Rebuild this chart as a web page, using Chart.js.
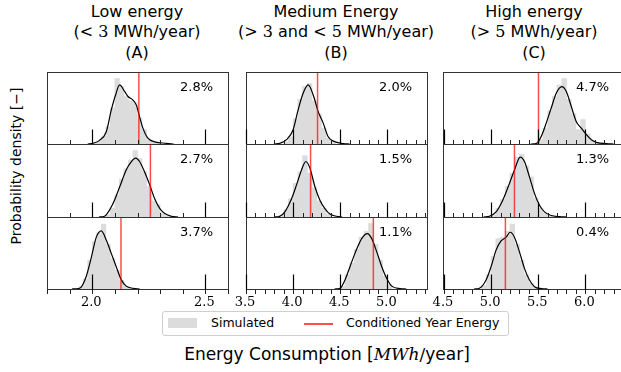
<!DOCTYPE html>
<html>
<head>
<meta charset="utf-8">
<script src="https://cdn.jsdelivr.net/npm/chart.js@4.4.1/dist/chart.umd.min.js"></script>
<style>
body { margin:0; width:621px; height:372px; overflow:hidden; background:#fff; position:relative; font-family:"DejaVu Sans", sans-serif; color:#000; }
canvas { position:absolute; }
.t { position:absolute; white-space:nowrap; transform:translateX(-50%); font-size:16px; line-height:20px; }
.m { font-family:"DejaVu Serif", serif; }
.mi { font-family:"DejaVu Serif", serif; font-style:italic; }
#ylab { position:absolute; left:16px; top:166px; white-space:nowrap; font-size:14px; transform:translate(-50%,-50%) rotate(-90deg); }
#legend { position:absolute; left:162px; top:311px; width:345px; height:23px; border:1px solid #cfcfcf; border-radius:3px; font-size:12.5px; }
#legend span { position:absolute; top:3px; line-height:16px; }
</style>
</head>
<body>
<div class="t" style="left:137px;top:2px">Low energy</div>
<div class="t" style="left:137px;top:22px">(<span class="m">&lt; 3</span> MWh/year)</div>
<div class="t" style="left:137px;top:43px">(A)</div>
<div class="t" style="left:336px;top:2px">Medium Energy</div>
<div class="t" style="left:336px;top:22px">(<span class="m">&gt; 3</span> and <span class="m">&lt; 5</span> MWh/year)</div>
<div class="t" style="left:336px;top:43px">(B)</div>
<div class="t" style="left:534px;top:2px">High energy</div>
<div class="t" style="left:534px;top:22px">(<span class="m">&gt; 5</span> MWh/year)</div>
<div class="t" style="left:534px;top:43px">(C)</div>
<div id="ylab">Probability density [&minus;]</div>
<div id="legend">
  <div style="position:absolute;left:5px;top:6px;width:29px;height:10px;background:#dcdcdc"></div>
  <span style="left:48px">Simulated</span>
  <div style="position:absolute;left:141px;top:11px;width:29px;height:1.5px;background:rgba(255,0,0,0.7)"></div>
  <span style="left:183px">Conditioned Year Energy</span>
</div>
<div class="t" style="left:327px;top:344px;font-size:17px">Energy Consumption [<span class="mi">MWh</span><span class="m">/</span>year]</div>

<script>
// histogram bins (centres) and heights, kde curves, per panel
const binsA1 = [2.01, 2.03, 2.05, 2.07, 2.09, 2.11, 2.13, 2.15, 2.17, 2.19, 2.21, 2.23, 2.25, 2.27, 2.29];
const histA1 = [0.02, 0.04, 0.10, 0.24, 0.50, 0.91, 0.80, 0.66, 0.60, 0.57, 0.36, 0.20, 0.06, 0.03, 0.01];
const kdeXA1 = [1.98, 2.003, 2.032, 2.062, 2.084, 2.103, 2.121, 2.143, 2.158, 2.180, 2.195, 2.209, 2.224, 2.246, 2.276, 2.327, 2.36];
const kdeYA1 = [0, 0.01, 0.05, 0.17, 0.47, 0.68, 0.82, 0.73, 0.66, 0.61, 0.54, 0.38, 0.22, 0.08, 0.03, 0.01, 0];

const binsA2 = [2.07, 2.09, 2.11, 2.13, 2.15, 2.17, 2.19, 2.21, 2.23, 2.25, 2.27, 2.29, 2.31, 2.33];
const histA2 = [0.03, 0.12, 0.30, 0.52, 0.66, 0.78, 0.91, 0.80, 0.62, 0.42, 0.22, 0.17, 0.06, 0.02];
const kdeXA2 = [2.03, 2.054, 2.091, 2.121, 2.150, 2.173, 2.192, 2.209, 2.231, 2.254, 2.276, 2.305, 2.350, 2.38];
const kdeYA2 = [0, 0.01, 0.18, 0.41, 0.645, 0.76, 0.806, 0.76, 0.62, 0.44, 0.25, 0.09, 0.01, 0];

const binsA3 = [1.95, 1.97, 1.99, 2.01, 2.03, 2.05, 2.07, 2.09, 2.11, 2.13, 2.15, 2.17];
const histA3 = [0.03, 0.14, 0.40, 0.66, 0.78, 0.90, 0.62, 0.42, 0.26, 0.12, 0.04, 0.01];
const kdeXA3 = [1.91, 1.944, 1.973, 1.996, 2.018, 2.040, 2.062, 2.084, 2.106, 2.128, 2.150, 2.180, 2.21];
const kdeYA3 = [0, 0.01, 0.17, 0.44, 0.72, 0.806, 0.68, 0.495, 0.31, 0.13, 0.04, 0.01, 0];

const binsB1 = [3.925, 3.975, 4.025, 4.075, 4.125, 4.175, 4.225, 4.275, 4.325, 4.375, 4.425];
const histB1 = [0.03, 0.10, 0.35, 0.62, 0.80, 0.84, 0.60, 0.42, 0.22, 0.08, 0.02];
const kdeXB1 = [3.80, 3.859, 3.930, 4.000, 4.053, 4.106, 4.160, 4.213, 4.266, 4.319, 4.372, 4.426, 4.532, 4.6];
const kdeYB1 = [0, 0.01, 0.06, 0.198, 0.475, 0.705, 0.82, 0.68, 0.45, 0.29, 0.10, 0.04, 0.005, 0];

const binsB2 = [3.875, 3.925, 3.975, 4.025, 4.075, 4.125, 4.175, 4.225, 4.275, 4.325, 4.375];
const histB2 = [0.03, 0.10, 0.25, 0.46, 0.62, 0.84, 0.60, 0.40, 0.22, 0.12, 0.04];
const kdeXB2 = [3.80, 3.859, 3.912, 3.983, 4.036, 4.089, 4.135, 4.178, 4.231, 4.284, 4.337, 4.390, 4.462, 4.52];
const kdeYB2 = [0, 0.01, 0.07, 0.25, 0.44, 0.645, 0.76, 0.67, 0.415, 0.23, 0.115, 0.04, 0.01, 0];

const binsB3 = [4.525, 4.575, 4.625, 4.675, 4.725, 4.775, 4.825, 4.875, 4.925, 4.975, 5.025];
const histB3 = [0.04, 0.20, 0.36, 0.55, 0.72, 0.80, 0.91, 0.62, 0.40, 0.18, 0.06];
const kdeXB3 = [4.44, 4.497, 4.550, 4.603, 4.656, 4.727, 4.787, 4.834, 4.887, 4.940, 4.993, 5.047, 5.135, 5.2];
const kdeYB3 = [0, 0.01, 0.125, 0.31, 0.495, 0.70, 0.77, 0.70, 0.516, 0.31, 0.147, 0.04, 0.005, 0];

const binsC1 = [5.525, 5.575, 5.625, 5.675, 5.725, 5.775, 5.825, 5.875, 5.925, 5.975, 6.025, 6.075, 6.125];
const histC1 = [0.06, 0.22, 0.46, 0.66, 0.82, 0.91, 0.62, 0.42, 0.20, 0.34, 0.14, 0.05, 0.02];
const kdeXC1 = [5.42, 5.479, 5.532, 5.585, 5.638, 5.691, 5.751, 5.798, 5.851, 5.904, 5.957, 6.011, 6.064, 6.117, 6.223, 6.3];
const kdeYC1 = [0, 0.005, 0.106, 0.29, 0.50, 0.705, 0.797, 0.728, 0.52, 0.31, 0.22, 0.13, 0.06, 0.023, 0.005, 0];

const binsC2 = [5.025, 5.075, 5.125, 5.175, 5.225, 5.275, 5.325, 5.375, 5.425, 5.475, 5.525, 5.575, 5.625];
const histC2 = [0.03, 0.12, 0.24, 0.42, 0.60, 0.82, 0.86, 0.70, 0.55, 0.26, 0.12, 0.05, 0.02];
const kdeXC2 = [4.92, 4.982, 5.053, 5.124, 5.195, 5.248, 5.309, 5.354, 5.407, 5.461, 5.514, 5.567, 5.638, 5.727, 5.8];
const kdeYC2 = [0, 0.01, 0.07, 0.23, 0.46, 0.645, 0.82, 0.76, 0.55, 0.32, 0.16, 0.07, 0.02, 0.005, 0];

const binsC3 = [4.925, 4.975, 5.025, 5.075, 5.125, 5.175, 5.225, 5.275, 5.325, 5.375, 5.425, 5.475];
const histC3 = [0.05, 0.20, 0.45, 0.70, 0.72, 0.80, 0.90, 0.62, 0.40, 0.20, 0.08, 0.02];
const kdeXC3 = [4.82, 4.876, 4.947, 5.000, 5.053, 5.106, 5.160, 5.202, 5.248, 5.301, 5.354, 5.407, 5.461, 5.532, 5.6];
const kdeYC3 = [0, 0.01, 0.125, 0.31, 0.54, 0.668, 0.72, 0.788, 0.72, 0.516, 0.286, 0.124, 0.032, 0.005, 0];

// conditioned year energy (red line) and percent labels, per column
const condA = [2.206, 2.257, 2.127];
const condB = [4.259, 4.185, 4.851];
const condC = [5.503, 5.248, 5.152];
const pctA = ["2.8%", "2.7%", "3.7%"];
const pctB = ["2.0%", "1.5%", "1.1%"];
const pctC = ["4.7%", "1.3%", "0.4%"];

// x ticks
const ticksA = [1.8, 1.9, 2.0, 2.1, 2.2, 2.3, 2.4, 2.5, 2.6];
const majorA = [2.0, 2.5];
const ticksB = [3.5, 3.6, 3.7, 3.8, 3.9, 4.0, 4.1, 4.2, 4.3, 4.4, 4.5, 4.6, 4.7, 4.8, 4.9, 5.0, 5.1, 5.2, 5.3, 5.4];
const majorB = [3.5, 4.0, 4.5, 5.0];
const ticksC = [4.5, 4.6, 4.7, 4.8, 4.9, 5.0, 5.1, 5.2, 5.3, 5.4, 5.5, 5.6, 5.7, 5.8, 5.9, 6.0, 6.1, 6.2, 6.3, 6.4];
const majorC = [4.5, 5.0, 5.5, 6.0];

const columns = [
    { left: 47, xmin: 1.8, xmax: 2.6, ticks: ticksA, major: majorA, cond: condA, pct: pctA,
      panels: [[binsA1, histA1, kdeXA1, kdeYA1], [binsA2, histA2, kdeXA2, kdeYA2], [binsA3, histA3, kdeXA3, kdeYA3]] },
    { left: 246, xmin: 3.5, xmax: 5.42, ticks: ticksB, major: majorB, cond: condB, pct: pctB,
      panels: [[binsB1, histB1, kdeXB1, kdeYB1], [binsB2, histB2, kdeXB2, kdeYB2], [binsB3, histB3, kdeXB3, kdeYB3]] },
    { left: 443, xmin: 4.49, xmax: 6.41, ticks: ticksC, major: majorC, cond: condC, pct: pctC,
      panels: [[binsC1, histC1, kdeXC1, kdeYC1], [binsC2, histC2, kdeXC2, kdeYC2], [binsC3, histC3, kdeXC3, kdeYC3]] },
];
const rowTops = [72, 144, 217];
const rowHeights = [72, 73, 72];
const panelWidth = 181;
const pad = 4;
const padX = 14;
const labelSpace = 24;

// frame, inward ticks, tick labels and percent text
const framePlugin = {
    id: "frame",
    afterDraw(chart, args, opts) {
        const ctx = chart.ctx;
        const a = chart.chartArea;
        const xs = chart.scales.x;
        ctx.save();
        ctx.strokeStyle = "#333";
        ctx.lineWidth = 1;
        ctx.strokeRect(Math.round(a.left) + 0.5, Math.round(a.top) + 0.5, Math.round(a.right - a.left), Math.round(a.bottom - a.top));
        const yb = Math.round(a.bottom) + 0.5;
        ctx.strokeStyle = "#222";
        opts.ticks.forEach((v) => {
            const px = Math.round(xs.getPixelForValue(v)) + 0.5;
            ctx.beginPath();
            if (opts.bottom) {
                ctx.moveTo(px, yb);
                ctx.lineTo(px, yb + 4.5);
            } else {
                ctx.moveTo(px, yb);
                ctx.lineTo(px, yb - 4.5);
            }
            ctx.stroke();
        });
        ctx.strokeStyle = "#000";
        ctx.lineWidth = 1.2;
        opts.major.forEach((v) => {
            const px = Math.round(xs.getPixelForValue(v)) + 0.5;
            ctx.beginPath();
            ctx.moveTo(px, yb);
            ctx.lineTo(px, yb - 15);
            ctx.stroke();
        });
        if (opts.bottom) {
            ctx.fillStyle = "#000";
            ctx.font = "13px 'DejaVu Serif', serif";
            ctx.textAlign = "center";
            ctx.textBaseline = "middle";
            opts.major.forEach((v) => {
                ctx.fillText(v.toFixed(1), xs.getPixelForValue(v) - 1, a.bottom + 14);
            });
        }
        ctx.fillStyle = "#000";
        ctx.font = "13px 'DejaVu Sans', sans-serif";
        ctx.textAlign = "right";
        ctx.textBaseline = "alphabetic";
        ctx.fillText(opts.pct, a.left + 166, a.top + 19);
        ctx.restore();
    },
};

columns.forEach((col) => {
    col.panels.forEach((p, r) => {
        const bottom = r === 2;
        const canvas = document.createElement("canvas");
        canvas.width = panelWidth + 2 * padX;
        canvas.height = rowHeights[r] + 2 * pad + (bottom ? labelSpace : 0);
        canvas.style.left = col.left - padX + "px";
        canvas.style.top = rowTops[r] - pad + "px";
        document.body.appendChild(canvas);

        const [bins, hist, kdeX, kdeY] = p;
        new Chart(canvas.getContext("2d"), {
            type: "bar",
            data: {
                datasets: [
                    {
                        type: "bar",
                        data: bins.map((b, i) => ({ x: b, y: hist[i] })),
                        backgroundColor: "#dcdcdc",
                        borderWidth: 0,
                        barPercentage: 1,
                        categoryPercentage: 1,
                        order: 3,
                    },
                    {
                        type: "line",
                        data: kdeX.map((x, i) => ({ x: x, y: kdeY[i] })),
                        borderColor: "#000",
                        borderWidth: 1.2,
                        pointRadius: 0,
                        cubicInterpolationMode: "monotone",
                        fill: false,
                        order: 2,
                    },
                    {
                        type: "line",
                        data: [{ x: col.cond[r], y: 0 }, { x: col.cond[r], y: 1 }],
                        borderColor: "rgba(255,0,0,0.7)",
                        borderWidth: 1.5,
                        pointRadius: 0,
                        fill: false,
                        order: 1,
                    },
                ],
            },
            options: {
                responsive: false,
                animation: false,
                events: [],
                layout: { padding: { left: padX, right: padX, top: pad, bottom: pad + (bottom ? labelSpace : 0) } },
                plugins: {
                    legend: { display: false },
                    tooltip: { enabled: false },
                    frame: { ticks: col.ticks, major: col.major, bottom: bottom, pct: col.pct[r] },
                },
                scales: {
                    x: { type: "linear", min: col.xmin, max: col.xmax, offset: false, display: false },
                    y: { min: 0, max: 1, display: false },
                },
            },
            plugins: [framePlugin],
        });
    });
});
</script>
</body>
</html>
